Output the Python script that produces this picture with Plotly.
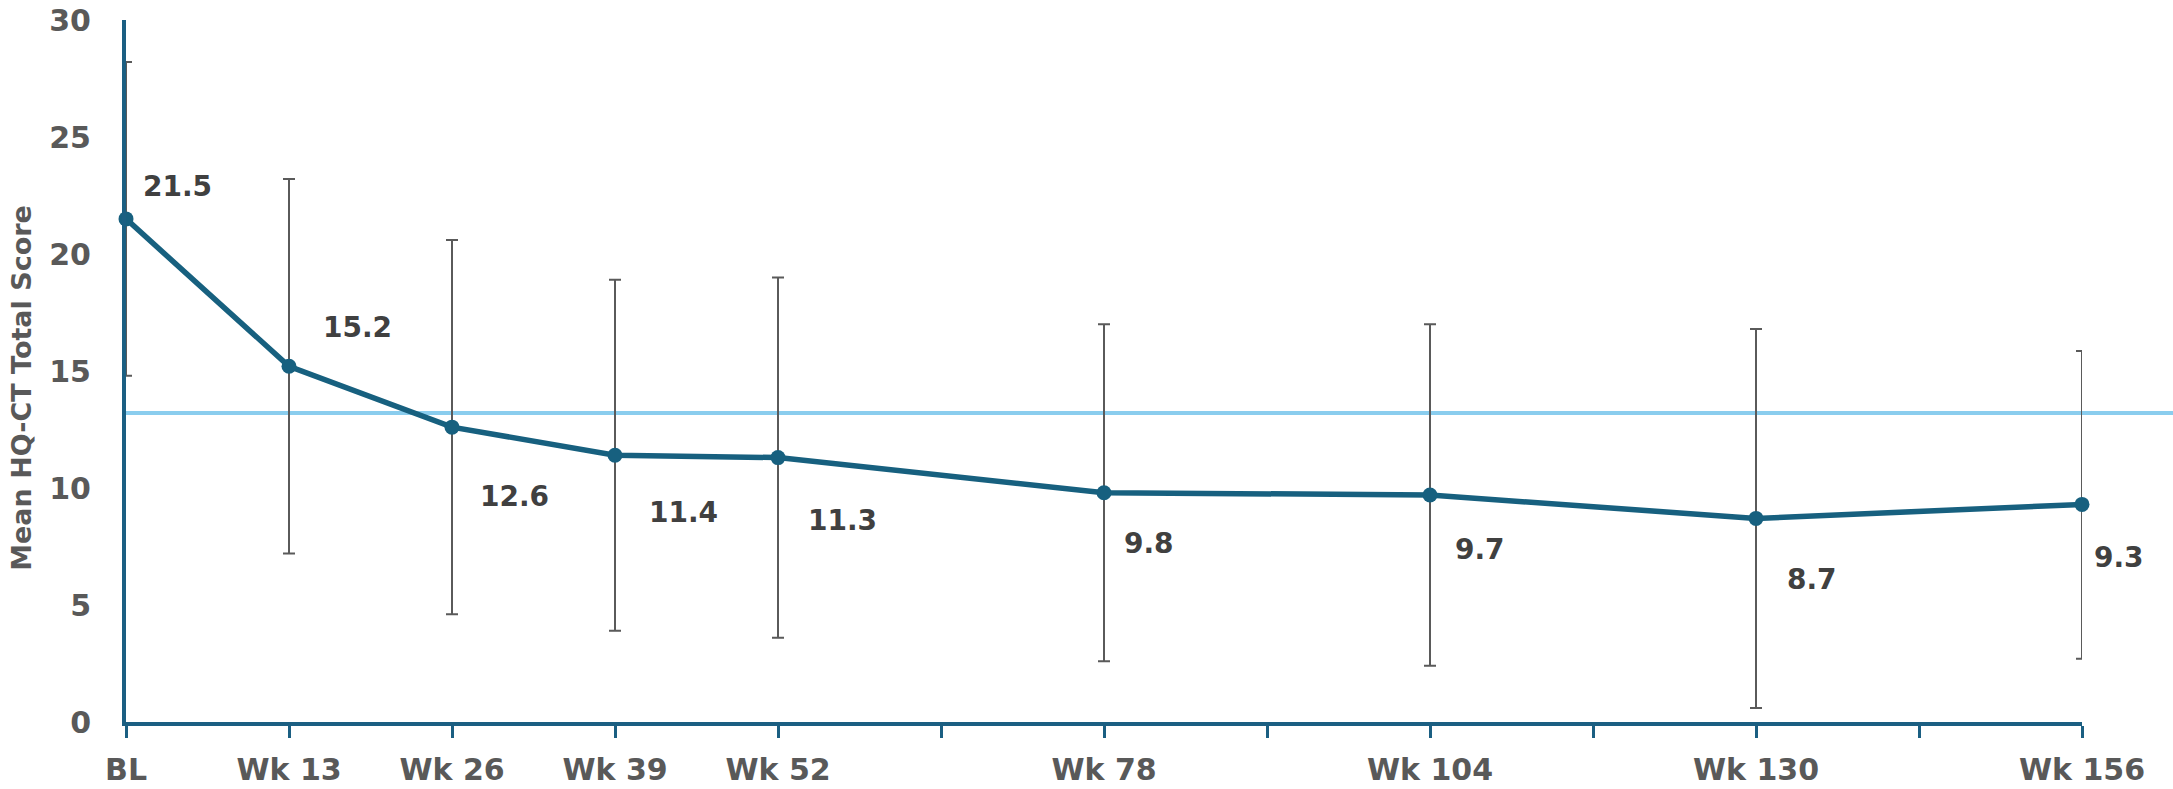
import plotly.graph_objects as go

# ---- data ----
weeks = [0, 13, 26, 39, 52, 78, 104, 130, 156]
means = [21.5, 15.2, 12.6, 11.4, 11.3, 9.8, 9.7, 8.7, 9.3]
upper = [28.2, 23.2, 20.6, 18.9, 19.0, 17.0, 17.0, 16.8, 15.85]
lower = [14.8, 7.2, 4.6, 3.9, 3.6, 2.6, 2.4, 0.6, 2.7]
labels = ["21.5", "15.2", "12.6", "11.4", "11.3", "9.8", "9.7", "8.7", "9.3"]
tick_vals = [0, 13, 26, 39, 52, 65, 78, 91, 104, 117, 130, 143, 156]
tick_text = ["BL", "Wk 13", "Wk 26", "Wk 39", "Wk 52", "", "Wk 78", "",
             "Wk 104", "", "Wk 130", "", "Wk 156"]
y_ticks = [0, 5, 10, 15, 20, 25, 30]
reference_line = 13.2

# label offsets (pixels) relative to the points
label_dx = [51, 68, 62, 68, 64, 45, 50, 56, 37]
label_dy = [32, 39, -69, -57, -63, -51, -54, -61, -53]

W, H = 2173, 789
ML, MT = 126, 20
plot_w, plot_h = 1956, 702
MR = W - ML - plot_w
MB = H - MT - plot_h

AX = "#1b5f82"
LINE = "#17607f"
FONT = "DejaVu Sans"

err_plus = [u - m for u, m in zip(upper, means)]
err_minus = [m - l for m, l in zip(means, lower)]

fig = go.Figure()
fig.add_trace(go.Scatter(
    x=weeks, y=means, mode="lines+markers",
    line=dict(color=LINE, width=5.5),
    marker=dict(color=LINE, size=15),
    error_y=dict(type="data", symmetric=False, array=err_plus, arrayminus=err_minus,
                 color="#5a5a5a", thickness=2, width=6),
    cliponaxis=False, showlegend=False, hoverinfo="skip",
))

for x, y, t, dx, dy in zip(weeks, means, labels, label_dx, label_dy):
    fig.add_annotation(x=x, y=y, text=t, showarrow=False, xshift=dx, yshift=dy,
                       font=dict(family=FONT, size=28, color="#404040", weight="bold"))

fig.add_shape(type="line", xref="paper", yref="y", x0=0, x1=(W - ML) / plot_w,
              y0=reference_line, y1=reference_line,
              line=dict(color="#8acdee", width=4), layer="below")

fig.add_annotation(xref="paper", yref="paper", x=(22 - ML) / plot_w, y=0.476,
                   xanchor="center", yanchor="middle",
                   text="Mean HQ-CT Total Score", textangle=-90, showarrow=False,
                   font=dict(family=FONT, size=27, color="#595959", weight="bold"))

fig.update_layout(
    width=W, height=H,
    margin=dict(l=ML, r=MR, t=MT, b=MB, autoexpand=False),
    plot_bgcolor="white", paper_bgcolor="white",
    xaxis=dict(range=[0, 156], tickvals=tick_vals, ticktext=tick_text,
               showgrid=False, zeroline=False, showline=True, linecolor=AX, linewidth=4,
               ticks="outside", ticklen=12, tickwidth=3, tickcolor=AX,
               ticklabelstandoff=6, ticklabeloverflow="allow",
               tickfont=dict(family=FONT, size=30, color="#595959", weight="bold")),
    yaxis=dict(range=[0, 30], tickvals=y_ticks,
               showgrid=False, zeroline=False, showline=True, linecolor=AX, linewidth=4,
               ticks="", ticklabelstandoff=25, ticklabeloverflow="allow",
               tickfont=dict(family=FONT, size=30, color="#595959", weight="bold")),
)

fig.write_html("out.html", config={"displayModeBar": False},
               post_script="document.body.style.margin='0';document.body.style.overflow='hidden';")
